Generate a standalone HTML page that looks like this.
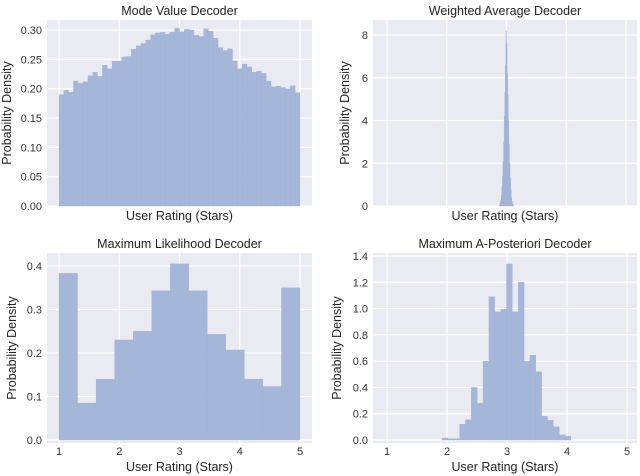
<!DOCTYPE html>
<html><head><meta charset="utf-8"><style>
body{margin:0;background:#fff;}
svg{display:block;font-family:"Liberation Sans",Arial,sans-serif;}
</style></head><body>
<svg id="fig" width="640" height="476" viewBox="0 0 640 476"></svg>
<script>
const modeValues=[0.190,0.197,0.194,0.213,0.209,0.212,0.222,0.228,0.221,0.240,0.234,0.247,0.247,0.254,0.255,0.267,0.273,0.277,0.283,0.292,0.295,0.296,0.293,0.296,0.303,0.297,0.301,0.300,0.291,0.289,0.302,0.298,0.286,0.270,0.265,0.268,0.247,0.234,0.242,0.237,0.228,0.230,0.226,0.213,0.203,0.204,0.202,0.200,0.205,0.193];
const weightedStart=2.88, weightedWidth=0.01;
const weightedValues=[0.05,0.15,0.3,0.5,0.9,1.4,2.1,3.0,4.2,5.3,6.6,8.2,7.6,6.2,5.2,4.0,2.9,2.0,1.3,0.8,0.4,0.2,0.1,0.05];
const mlValues=[0.383,0.085,0.14,0.23,0.25,0.343,0.405,0.343,0.243,0.207,0.14,0.123,0.35];
const mapStart=1.917, mapWidth=0.0977;
const mapValues=[0.015,0.01,0.01,0.12,0.155,0.4,0.28,0.6,1.09,0.975,0.995,1.34,0.975,1.2,0.6,0.645,0.52,0.18,0.15,0.1,0.04,0.03];
const p1Ticks=["0.00","0.05","0.10","0.15","0.20","0.25","0.30"];
const p2Ticks=["0","2","4","6","8"];
const p3Ticks=["0.0","0.1","0.2","0.3","0.4"];
const p4Ticks=["0.0","0.2","0.4","0.6","0.8","1.0","1.2","1.4"];
const xTicks=[1,2,3,4,5];

const NS="http://www.w3.org/2000/svg";
const svg=document.getElementById('fig');
function mk(tag,attrs,parent){const e=document.createElementNS(NS,tag);for(const k in attrs)e.setAttribute(k,attrs[k]);(parent||svg).appendChild(e);return e;}

function panel(o){
  const g=mk('g',{});
  
  
  const sx=v=>o.xa[1]+(v-o.xa[0])*(o.xb[1]-o.xa[1])/(o.xb[0]-o.xa[0]);
  const sy=v=>o.ya[1]+(v-o.ya[0])*(o.yb[1]-o.ya[1])/(o.yb[0]-o.ya[0]);
  const bg=mk('rect',{x:o.x0,y:o.y0,width:o.x1-o.x0,height:o.y1-o.y0,fill:'#eaeaf2'},g);
  
  
  xTicks.forEach(t=>{const l=mk('line',{x1:sx(t),x2:sx(t),y1:o.y0,y2:o.y1,stroke:'#fff','stroke-width':1.2},g);
    
    
    if(o.showX){const tx=mk('text',{x:sx(t),y:o.y1+12,'text-anchor':'middle','font-size':11,fill:'#333'},g);tx.textContent=t;
      
      }
  });
  o.yTicks.forEach(t=>{const y=sy(parseFloat(t));
    const l=mk('line',{x1:o.x0,x2:o.x1,y1:y,y2:y,stroke:'#fff','stroke-width':1.2},g);
    
    
    const tx=mk('text',{x:o.x0-5,y:y+4,'text-anchor':'end','font-size':11,fill:'#333'},g);tx.textContent=t;
    
    
  });
  o.values.forEach((v,i)=>{const a=o.start+i*o.width,b=a+o.width;
    const r=mk('rect',{x:sx(a),y:sy(v),width:sx(b)-sx(a),height:sy(0)-sy(v),fill:'#a5b6d9',stroke:'#9fb0d3','stroke-width':0.3},g);
    
    
  });
  const ti=mk('text',{x:(o.x0+o.x1)/2,y:o.y0-5,'text-anchor':'middle','font-size':12.5,fill:'#222'},g);ti.textContent=o.title;
  
  
  const xl=mk('text',{x:(o.x0+o.x1)/2,y:o.xlY,'text-anchor':'middle','font-size':12.5,fill:'#222'},g);xl.textContent='User Rating (Stars)';
  
  
  const cy=(o.y0+o.y1)/2;
  const yl=mk('text',{x:o.ylX,y:cy,'text-anchor':'middle','font-size':12.5,fill:'#222',transform:`rotate(-90 ${o.ylX} ${cy})`},g);yl.textContent='Probability Density';
  
  
}
panel({name:'mode-value-panel',title:'Mode Value Decoder',x0:47,x1:312,y0:20,y1:206,xa:[1,59],xb:[5,300],ya:[0,206],yb:[0.30,30],
  yTicks:p1Ticks,values:modeValues,start:1,width:4/modeValues.length,showX:false,xlY:220,ylX:11});
panel({name:'weighted-average-panel',title:'Weighted Average Decoder',x0:373,x1:637,y0:20,y1:206,xa:[1,387],xb:[5,626],ya:[0,206],yb:[8,35],
  yTicks:p2Ticks,values:weightedValues,start:weightedStart,width:weightedWidth,showX:false,xlY:220,ylX:349});
panel({name:'maximum-likelihood-panel',title:'Maximum Likelihood Decoder',x0:47,x1:312,y0:253,y1:443,xa:[1,59],xb:[5,300],ya:[0,440],yb:[0.4,266],
  yTicks:p3Ticks,values:mlValues,start:1,width:4/mlValues.length,showX:true,xlY:471,ylX:16});
panel({name:'maximum-a-posteriori-panel',title:'Maximum A-Posteriori Decoder',x0:373,x1:637,y0:253,y1:443,xa:[1,387],xb:[5,627],ya:[0,440],yb:[1.4,256],
  yTicks:p4Ticks,values:mapValues,start:mapStart,width:mapWidth,showX:true,xlY:471,ylX:341});
</script>
</body></html>
